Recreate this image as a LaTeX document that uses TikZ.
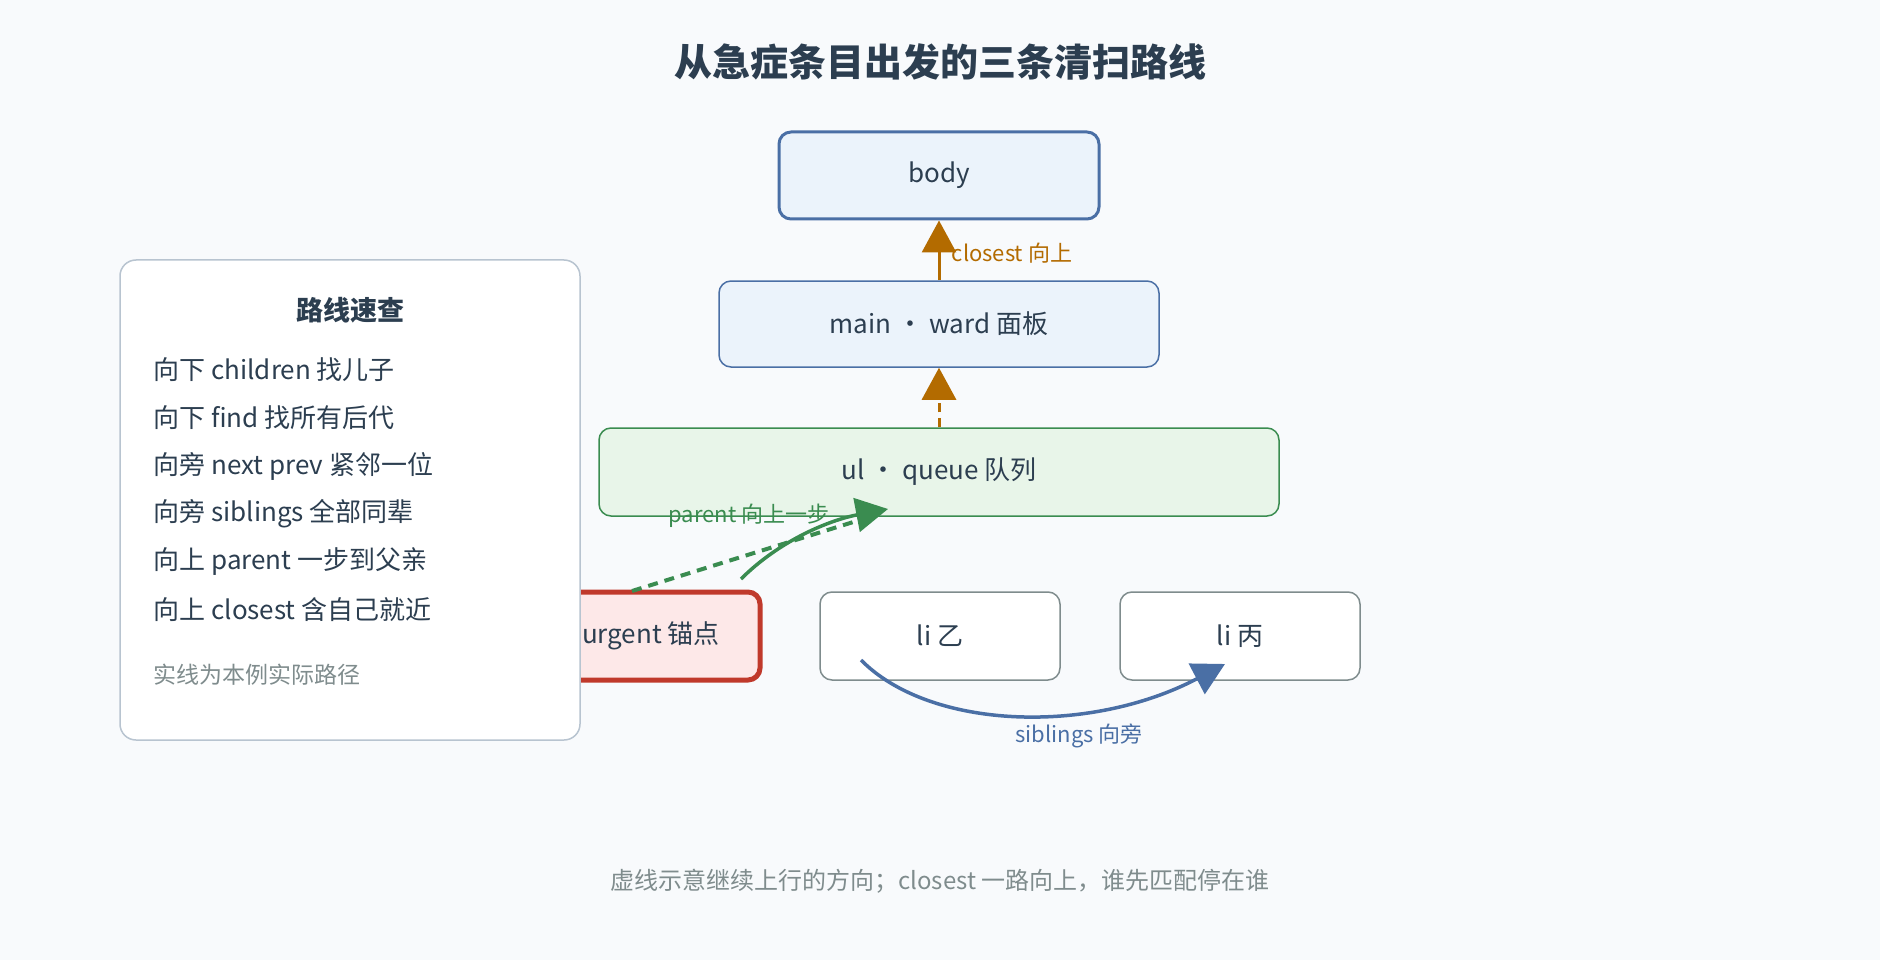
\documentclass[tikz,border=0pt]{standalone}
\usepackage{fontspec}
\setmainfont{Noto Sans CJK SC}
\usetikzlibrary{arrows.meta}
\definecolor{bg}{HTML}{F8FAFC}
\definecolor{txt}{HTML}{2C3E50}
\definecolor{bl}{HTML}{4A6FA5}
\definecolor{blf}{HTML}{EBF3FB}
\definecolor{gr}{HTML}{3A8C50}
\definecolor{grf}{HTML}{E8F5E9}
\definecolor{rd}{HTML}{C0392B}
\definecolor{rdf}{HTML}{FDE8E8}
\definecolor{gy}{HTML}{7F8C8D}
\definecolor{lg}{HTML}{B8C4D0}
\definecolor{og}{HTML}{B36B00}
\tikzset{
 box/.style={draw,rounded corners=12pt,minimum height=88pt,text=txt,font=\fontsize{26pt}{30pt}\selectfont},
 lbl/.style={font=\fontsize{22pt}{26pt}\selectfont},
 leg/.style={anchor=west,text=txt,font=\fontsize{26pt}{30pt}\selectfont},
 tip/.style={-{Triangle[length=32pt,width=34pt]}}
}
\begin{document}
\begin{tikzpicture}[x=1pt,y=-1pt]
\fill[bg] (0,0) rectangle (1880,960);
\useasboundingbox (0,0) rectangle (1880,960);
\node[text=txt,font=\bfseries\fontsize{38pt}{44pt}\selectfont] (title) at (940,62) {从急症条目出发的三条清扫路线};
\node[box,fill=blf,draw=bl,line width=3pt,minimum width=320pt,minimum height=87pt] (body) at (939,175.5) {body};
\node[box,fill=blf,draw=bl,line width=1.5pt,minimum width=440pt,minimum height=86pt] (main) at (939,324) {main · ward 面板};
\node[box,fill=grf,draw=gr,line width=1.5pt,minimum width=680pt] (ul) at (939,472) {ul · queue 队列};
\node[box,fill=rdf,draw=rd,line width=5pt,minimum width=240pt] (urg) at (640,636) {li.urgent 锚点};
\node[box,fill=white,draw=gy,line width=1.5pt,minimum width=240pt] (l2) at (940,636) {li 乙};
\node[box,fill=white,draw=gy,line width=1.5pt,minimum width=240pt] (l3) at (1240,636) {li 丙};
% closest arrows
\draw[og,line width=3pt,tip] (main.north) -- (body.south) node[pos=0.45,right=8pt,lbl,text=og]{closest 向上};
\draw[og,line width=3pt,dashed,dash pattern=on 9pt off 6pt,tip] (ul.north) -- (main.south);
% parent arrows
\coordinate (ps) at (632,591);
\coordinate (pe) at (863,519);
\draw[gr,line width=4pt,dash pattern=on 10pt off 7pt] (ps) -- (pe);
\coordinate (cs) at (741,579);
\coordinate (ce) at (888,509);
\draw[gr,line width=3.5pt,tip] (cs) .. controls (780,540) and (830,520) .. (ce);
\node[lbl,text=gr] (plab) at (749,516) {parent 向上一步};
% siblings
\coordinate (ss) at (861,660);
\coordinate (se) at (1225,664);
\draw[bl,line width=3.5pt,tip] (ss) .. controls (930,730) and (1090,735) .. (se);
\node[lbl,text=bl] (slab) at (1079,736) {siblings 向旁};
% legend
\node[draw=lg,line width=1.5pt,fill=white,rounded corners=16pt,minimum width=460pt,minimum height=480pt] (legend) at (350,500) {};
\node[text=txt,font=\bfseries\fontsize{27pt}{32pt}\selectfont] (lt) at (350,310) {路线速查};
\node[leg] (a1) at (150,370) {向下 children 找儿子};
\node[leg] (a2) at (150,418) {向下 find 找所有后代};
\node[leg] (a3) at (150,466) {向旁 next prev 紧邻一位};
\node[leg] (a4) at (150,514) {向旁 siblings 全部同辈};
\node[leg] (a5) at (150,562) {向上 parent 一步到父亲};
\node[leg] (a6) at (150,610) {向上 closest 含自己就近};
\node[anchor=west,text=gy,font=\fontsize{23pt}{28pt}\selectfont] (a7) at (150,675) {实线为本例实际路径};
\node[text=gy,font=\fontsize{24pt}{28pt}\selectfont] (foot) at (940,881) {虚线示意继续上行的方向；closest 一路向上，谁先匹配停在谁};
\end{tikzpicture}
\end{document}
